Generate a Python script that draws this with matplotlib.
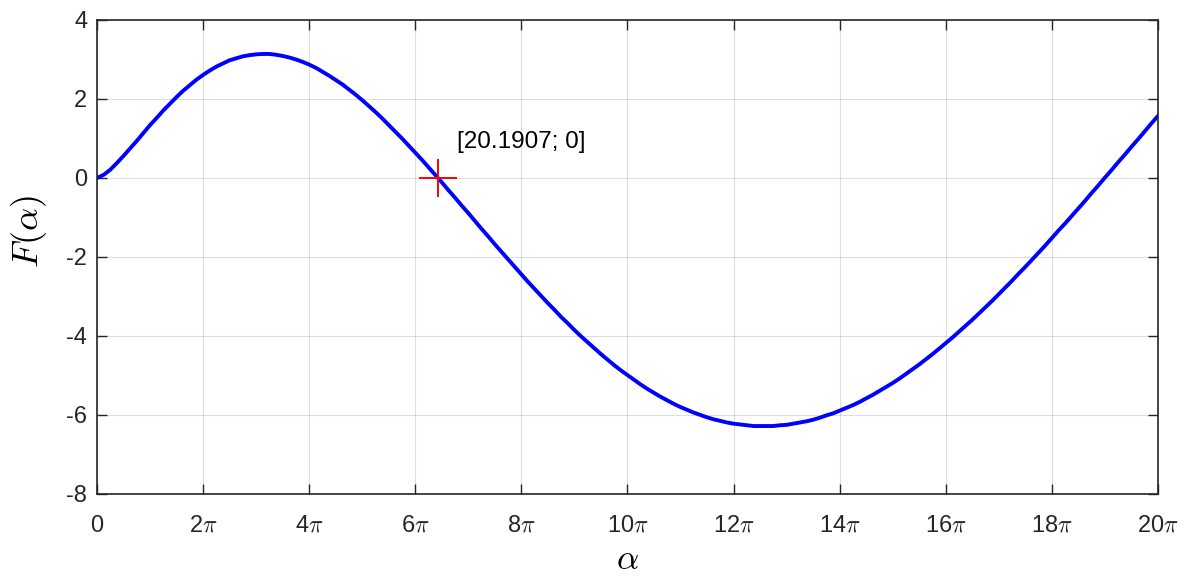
import numpy as np
import matplotlib.pyplot as plt

plt.rcParams['font.family'] = ['Liberation Sans', 'DejaVu Sans']
plt.rcParams['mathtext.fontset'] = 'cm'

alpha_step_pi = 0.125
F_vals = [0.00, 0.08, 0.21, 0.38, 0.56, 0.75, 0.94, 1.14, 1.34, 1.52,
          1.71, 1.88, 2.05, 2.21, 2.35, 2.49, 2.61, 2.72, 2.82, 2.90,
          2.98, 3.03, 3.08, 3.11, 3.13, 3.14, 3.14, 3.12, 3.09, 3.05,
          3.00, 2.94, 2.87, 2.79, 2.69, 2.59, 2.48, 2.37, 2.24, 2.11,
          1.97, 1.82, 1.67, 1.51, 1.34, 1.17, 1.00, 0.82, 0.64, 0.46,
          0.27, 0.08, -0.11, -0.31, -0.50, -0.70, -0.89, -1.09, -1.29, -1.48,
          -1.68, -1.87, -2.06, -2.25, -2.44, -2.63, -2.81, -2.99, -3.17, -3.34,
          -3.52, -3.68, -3.85, -4.01, -4.16, -4.31, -4.46, -4.60, -4.74, -4.87,
          -4.99, -5.11, -5.23, -5.34, -5.44, -5.54, -5.63, -5.72, -5.80, -5.87,
          -5.94, -6.00, -6.06, -6.11, -6.15, -6.19, -6.22, -6.24, -6.26, -6.28,
          -6.28, -6.28, -6.28, -6.26, -6.25, -6.22, -6.19, -6.16, -6.12, -6.07,
          -6.01, -5.96, -5.89, -5.82, -5.75, -5.67, -5.58, -5.49, -5.39, -5.29,
          -5.19, -5.08, -4.96, -4.84, -4.72, -4.59, -4.46, -4.32, -4.18, -4.04,
          -3.89, -3.74, -3.59, -3.43, -3.27, -3.11, -2.94, -2.77, -2.60, -2.42,
          -2.25, -2.07, -1.89, -1.71, -1.52, -1.33, -1.15, -0.96, -0.77, -0.58,
          -0.38, -0.19, 0.01, 0.20, 0.40, 0.59, 0.79, 0.98, 1.18, 1.38,
          1.57]
alpha = np.arange(len(F_vals)) * alpha_step_pi * np.pi

root_x = 20.1907
root_y = 0
root_label = '[20.1907; 0]'

xtick_k = [0, 2, 4, 6, 8, 10, 12, 14, 16, 18, 20]
xtick_labels = ['0'] + ['%d$\\pi$' % k for k in xtick_k[1:]]
yticks = [4, 2, 0, -2, -4, -6, -8]

fig = plt.figure(figsize=(11.89, 5.76), dpi=100)
ax = fig.add_axes([0.0816, 0.1424, 0.8923, 0.8229])

ax.plot(alpha, F_vals, color='blue', lw=2.8, solid_joinstyle='round')
ax.plot(root_x, root_y, '+', color='red', markersize=27, markeredgewidth=1.4)
ax.text(root_x + 1.1, root_y + 0.92, root_label, fontsize=17.5, va='center', ha='left')

ax.set_xlim(0, 20 * np.pi)
ax.set_ylim(-8, 4)
ax.set_xticks([k * np.pi for k in xtick_k])
ax.set_xticklabels(xtick_labels)
ax.set_yticks(yticks)
ax.set_yticklabels([str(v) for v in yticks])

ax.grid(True, color='#262626', alpha=0.15, lw=0.8)
ax.tick_params(direction='in', length=7.5, width=1.0, top=True, right=True,
               labelsize=17, colors='#262626')
ax.tick_params(axis='x', pad=15)
ax.tick_params(axis='y', pad=7)
for sp in ax.spines.values():
    sp.set_color('#262626')
    sp.set_linewidth(1.2)

ax.set_xlabel(r'$\alpha$', fontsize=25, va='center')
ax.set_ylabel(r'$F(\alpha)$', fontsize=26)
ax.xaxis.set_label_coords(0.5, -0.138)
ax.yaxis.set_label_coords(-0.045, 0.553)

fig.savefig('out.png')
